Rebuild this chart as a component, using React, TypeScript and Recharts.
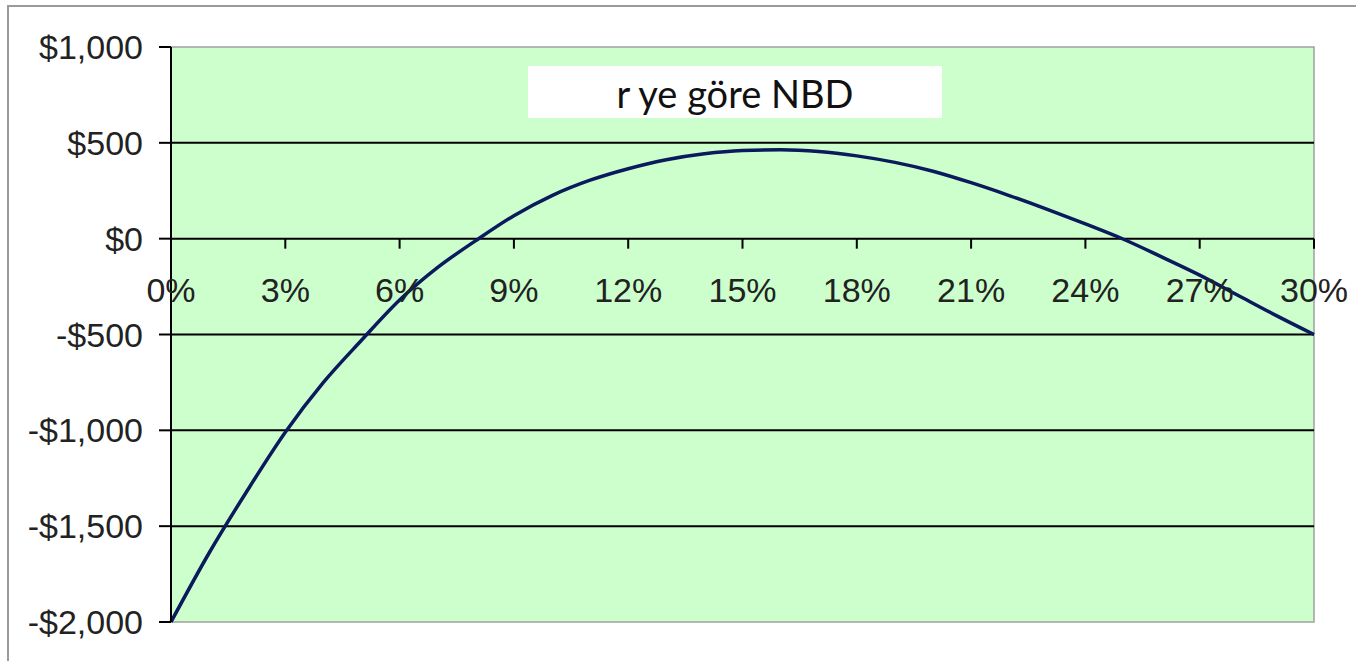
import React from "react";
import {
  LineChart,
  Line,
  XAxis,
  YAxis,
  CartesianGrid,
  ReferenceLine,
  ReferenceArea,
} from "recharts";

// discount rate (%) and net present value at that rate
const RATES = [
  0, 1, 2, 3, 4, 5, 6, 7, 8, 9, 10, 11, 12, 13, 14, 15, 16, 17, 18, 19, 20, 21,
  22, 23, 24, 25, 26, 27, 28, 29, 30,
];
const NPV = [
  -2000, -1640, -1315, -1010, -750, -530, -320, -150, -10, 120, 225, 305, 365,
  412, 443, 460, 464, 455, 432, 398, 352, 292, 225, 153, 77, -3, -95, -190,
  -295, -400, -500,
];

const X_TICKS = [0, 3, 6, 9, 12, 15, 18, 21, 24, 27, 30];
const Y_TICKS = [-2000, -1500, -1000, -500, 0, 500, 1000];
const GRID_VALUES = [500, 0, -500, -1000, -1500];
const TITLE = "r ye göre NBD";

const W = 1356;
const H = 661;
const PLOT_LEFT = 171;
const PLOT_TOP = 47;
const PLOT_RIGHT = 1314;
const PLOT_BOTTOM = 622;
const XAXIS_H = 20;
const Y_MIN = Y_TICKS[0];
const Y_MAX = Y_TICKS[Y_TICKS.length - 1];
// the category axis sits on the $0 line, not at the bottom of the plot
const ZERO_Y =
  PLOT_TOP + ((PLOT_BOTTOM - PLOT_TOP) * (Y_MAX - 0)) / (Y_MAX - Y_MIN);

const FONT = "'Liberation Sans', Arial, sans-serif";

const data = RATES.map((r, i) => ({ r, npv: NPV[i] }));

const money = (v: number) =>
  (v < 0 ? "-$" : "$") + Math.abs(v).toLocaleString("en-US");

const PctTick = (props: any) => {
  const { x, payload } = props;
  return (
    <g>
      <line
        x1={x}
        x2={x}
        y1={ZERO_Y}
        y2={ZERO_Y + 10}
        stroke="#000"
        strokeWidth={2}
      />
      <text
        x={x}
        y={ZERO_Y + 63}
        textAnchor="middle"
        fill="#222"
        fontSize={34}
        fontFamily={FONT}
      >
        {payload.value}%
      </text>
    </g>
  );
};

export default function App() {
  return (
    <div
      style={{
        position: "fixed",
        inset: 0,
        overflow: "hidden",
        background: "#fff",
      }}
    >
      <div
        style={{
          position: "absolute",
          left: 7,
          top: 5,
          width: 1400,
          height: 720,
          border: "2px solid #9a9a9a",
        }}
      />
      <div style={{ position: "absolute", left: 0, top: 0 }}>
        <LineChart
          width={W}
          height={H}
          data={data}
          margin={{
            top: PLOT_TOP,
            right: W - PLOT_RIGHT,
            bottom: H - PLOT_BOTTOM - XAXIS_H,
            left: 0,
          }}
        >
          <CartesianGrid
            horizontal={false}
            vertical={false}
            fill="#ccffcc"
            fillOpacity={1}
          />
          <ReferenceArea
            x1={RATES[0]}
            x2={RATES[RATES.length - 1]}
            y1={Y_MIN}
            y2={Y_MAX}
            fill="none"
            stroke="#a0a0a0"
            strokeWidth={1.5}
          />
          {GRID_VALUES.map((v) => (
            <ReferenceLine key={v} y={v} stroke="#000" strokeWidth={2} />
          ))}
          <XAxis
            dataKey="r"
            type="number"
            domain={[0, 30]}
            ticks={X_TICKS}
            axisLine={false}
            tickLine={false}
            height={XAXIS_H}
            tick={<PctTick />}
            interval={0}
          />
          <YAxis
            type="number"
            domain={[Y_MIN, Y_MAX]}
            ticks={Y_TICKS}
            width={PLOT_LEFT}
            interval={0}
            tickFormatter={money}
            axisLine={{ stroke: "#000", strokeWidth: 2 }}
            tickLine={{ stroke: "#000", strokeWidth: 2 }}
            tickSize={12}
            tickMargin={16}
            tick={{ fill: "#222", fontSize: 34, fontFamily: FONT }}
          />
          <Line
            dataKey="npv"
            type="monotone"
            stroke="#0a1a5c"
            strokeWidth={3.5}
            dot={false}
            isAnimationActive={false}
          />
        </LineChart>
      </div>
      <div
        style={{
          position: "absolute",
          left: 528,
          top: 66,
          width: 414,
          height: 52,
          background: "#fff",
          color: "#111",
          fontFamily: "Lato, 'Open Sans', sans-serif",
          fontSize: 38,
          lineHeight: "54px",
          textAlign: "center",
        }}
      >
        {TITLE}
      </div>
    </div>
  );
}
